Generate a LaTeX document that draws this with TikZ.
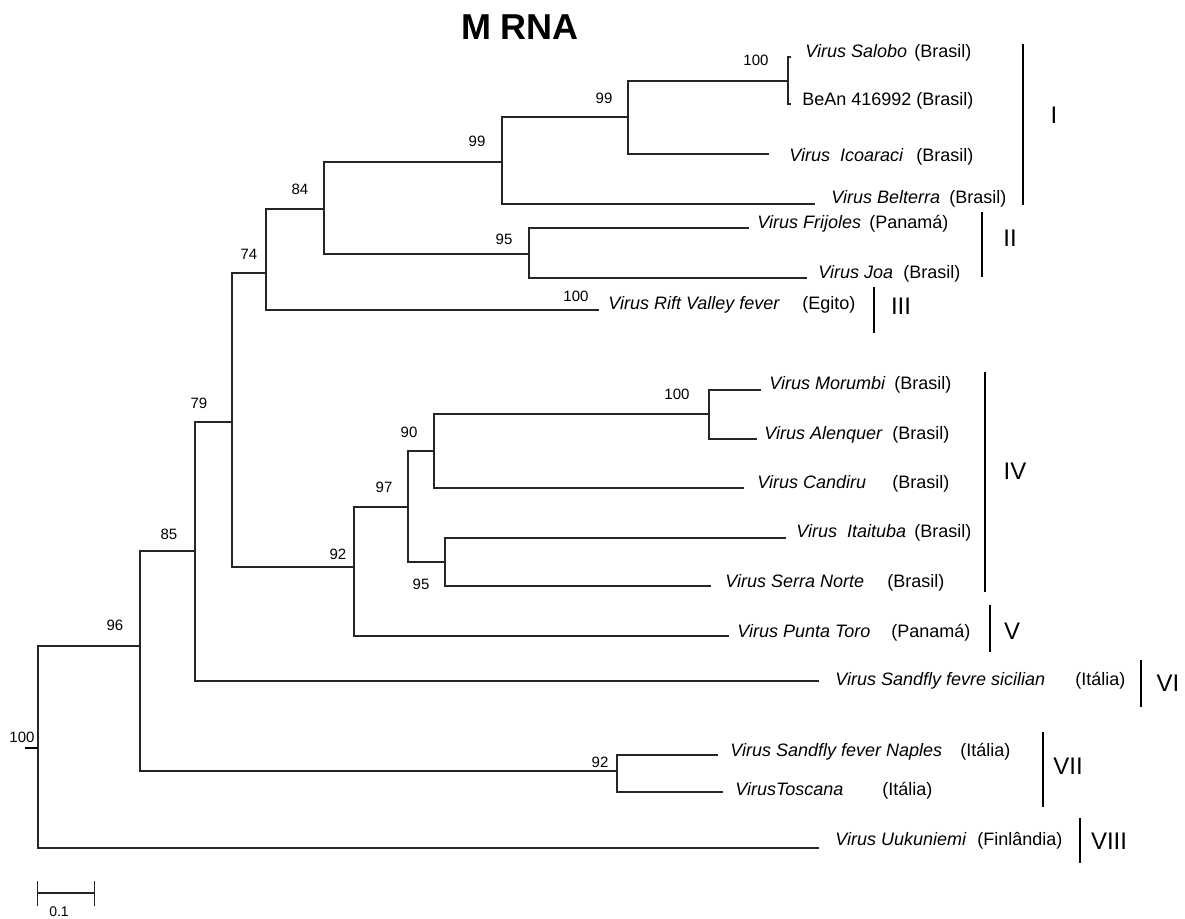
\documentclass[tikz,border=0pt]{standalone}
\usepackage{fontspec}
\setmainfont{Liberation Sans}
\usepackage{tikz}

\tikzset{
  branch/.style={draw=black!85, line width=0.55pt},
  cladebar/.style={draw=black, line width=1pt},
  boot/.style={inner sep=0pt, font=\fontsize{7.5}{9}\selectfont},
  taxon/.style={anchor=west, inner sep=0pt, text height=0.75em, text depth=0.25em,
    font=\fontsize{9}{11}\selectfont\itshape},
  place/.style={anchor=west, inner sep=0pt, text height=0.75em, text depth=0.25em,
    font=\fontsize{9}{11}\selectfont},
  cladenum/.style={inner sep=0pt, font=\fontsize{12}{14}\selectfont},
}

\begin{document}
\begin{tikzpicture}[x=0.5pt,y=-0.5pt]
\useasboundingbox (0,0) rectangle (1185,918);

\node[font=\fontsize{18}{20}\selectfont\bfseries] (title) at (520,27) {M RNA};

% internal nodes
\coordinate (root) at (38,748);
\coordinate (rootstub) at (25,748);
\coordinate (n96) at (140,646);
\coordinate (n85) at (195,551);
\coordinate (n79) at (232,422);
\coordinate (n74) at (266,273);
\coordinate (n84) at (324,209);
\coordinate (n99b) at (502,162);
\coordinate (n99a) at (628,117);
\coordinate (n100a) at (788,81);
\coordinate (n95) at (529,254);
\coordinate (n92) at (354,567);
\coordinate (n97) at (408,507);
\coordinate (n90) at (434,451);
\coordinate (n100b) at (709,414);
\coordinate (n95b) at (445,562);
\coordinate (n92b) at (617,771);

% branch tips
\coordinate (t-salobo) at (791,57);
\coordinate (t-bean) at (791,104);
\coordinate (t-icoaraci) at (769,154);
\coordinate (t-belterra) at (815,204);
\coordinate (t-frijoles) at (749,228);
\coordinate (t-joa) at (807,278);
\coordinate (t-rift) at (599,310);
\coordinate (t-morumbi) at (761,390);
\coordinate (t-alenquer) at (757,439);
\coordinate (t-candiru) at (744,488);
\coordinate (t-itaituba) at (786,538);
\coordinate (t-serra) at (711,586);
\coordinate (t-punta) at (729,636);
\coordinate (t-sicilian) at (819,681);
\coordinate (t-naples) at (718,755);
\coordinate (t-toscana) at (723,792);
\coordinate (t-uuk) at (819,848);

\foreach \a/\b in {root/n96, root/t-uuk, n96/n85, n96/n92b, n85/n79, n85/t-sicilian,
    n79/n74, n79/n92, n74/n84, n74/t-rift, n84/n99b, n84/n95, n99b/n99a, n99b/t-belterra,
    n99a/n100a, n99a/t-icoaraci, n100a/t-salobo, n100a/t-bean, n95/t-frijoles, n95/t-joa,
    n92/n97, n92/t-punta, n97/n90, n97/n95b, n90/n100b, n90/t-candiru,
    n100b/t-morumbi, n100b/t-alenquer, n95b/t-itaituba, n95b/t-serra,
    n92b/t-naples, n92b/t-toscana}
  \draw[branch] (\a) |- (\b);
\draw[line width=1pt] (rootstub) -- (root);

% bootstrap values
\node[boot] (b-root) at (22,737) {100};
\node[boot] (b96) at (115,625) {96};
\node[boot] (b85) at (169,534) {85};
\node[boot] (b79) at (199,403) {79};
\node[boot] (b74) at (249,254) {74};
\node[boot] (b84) at (300,189) {84};
\node[boot] (b99b) at (477,141) {99};
\node[boot] (b99a) at (604,98) {99};
\node[boot] (b100a) at (756,60) {100};
\node[boot] (b95) at (504,239) {95};
\node[boot] (b-rift) at (576,296) {100};
\node[boot] (b92) at (338,554) {92};
\node[boot] (b97) at (384,487) {97};
\node[boot] (b90) at (409,432) {90};
\node[boot] (b100b) at (677,394) {100};
\node[boot] (b95b) at (421,584) {95};
\node[boot] (b92b) at (600,762) {92};

% taxa
\node[taxon] (salobo) at (805,52) {Virus Salobo};
\node[place] (salobo-c) at (914,52) {(Brasil)};
\node[place] (bean) at (802,100) {BeAn 416992};
\node[place] (bean-c) at (916,100) {(Brasil)};
\node[taxon] (icoaraci) at (789,156) {Virus\ \ Icoaraci};
\node[place] (icoaraci-c) at (916,156) {(Brasil)};
\node[taxon] (belterra) at (831,198) {Virus Belterra};
\node[place] (belterra-c) at (949,198) {(Brasil)};
\node[taxon] (frijoles) at (757,223) {Virus Frijoles};
\node[place] (frijoles-c) at (869,223) {(Panamá)};
\node[taxon] (joa) at (818,273) {Virus Joa};
\node[place] (joa-c) at (903,273) {(Brasil)};
\node[taxon] (rift) at (608,304) {Virus Rift Valley fever};
\node[place] (rift-c) at (802,304) {(Egito)};
\node[taxon] (morumbi) at (769,384) {Virus Morumbi};
\node[place] (morumbi-c) at (894,384) {(Brasil)};
\node[taxon] (alenquer) at (764,434) {Virus Alenquer};
\node[place] (alenquer-c) at (892,434) {(Brasil)};
\node[taxon] (candiru) at (757,483) {Virus Candiru};
\node[place] (candiru-c) at (892,483) {(Brasil)};
\node[taxon] (itaituba) at (796,532) {Virus\ \ Itaituba};
\node[place] (itaituba-c) at (914,532) {(Brasil)};
\node[taxon] (serra) at (725,582) {Virus Serra Norte};
\node[place] (serra-c) at (887,582) {(Brasil)};
\node[taxon] (punta) at (737,632) {Virus Punta Toro};
\node[place] (punta-c) at (891,632) {(Panamá)};
\node[taxon] (sicilian) at (835,680) {Virus Sandfly fevre sicilian};
\node[place] (sicilian-c) at (1075,680) {(Itália)};
\node[taxon] (naples) at (730,751) {Virus Sandfly fever Naples};
\node[place] (naples-c) at (960,751) {(Itália)};
\node[taxon] (toscana) at (735,790) {VirusToscana};
\node[place] (toscana-c) at (882,790) {(Itália)};
\node[taxon] (uuk) at (835,840) {Virus Uukuniemi};
\node[place] (uuk-c) at (977,840) {(Finlândia)};

% clade bars
\draw[cladebar] (1023,44) -- (1023,205);
\node[cladenum] (c1) at (1054,115) {I};
\draw[cladebar] (982,212) -- (982,277);
\node[cladenum] (c2) at (1010,238) {II};
\draw[cladebar] (874,287) -- (874,333);
\node[cladenum] (c3) at (901,306) {III};
\draw[cladebar] (985,372) -- (985,592);
\node[cladenum] (c4) at (1015,471) {IV};
\draw[cladebar] (990,605) -- (990,652);
\node[cladenum] (c5) at (1012,631) {V};
\draw[cladebar] (1141,660) -- (1141,707);
\node[cladenum] (c6) at (1168,683) {VI};
\draw[cladebar] (1043,732) -- (1043,807);
\node[cladenum] (c7) at (1068,766) {VII};
\draw[cladebar] (1080,818) -- (1080,863);
\node[cladenum] (c8) at (1109,841) {VIII};

% scale bar
\coordinate (sb-l) at (37.5,893);
\coordinate (sb-r) at (94.5,893);
\draw[branch] (sb-l) -- (sb-r);
\draw[branch] (sb-l) ++(0,-12) -- ++(0,25);
\draw[branch] (sb-r) ++(0,-12) -- ++(0,25);
\node[font=\fontsize{7}{8}\selectfont, inner sep=0pt] (sb) at (59,912) {0.1};
\end{tikzpicture}
\end{document}
